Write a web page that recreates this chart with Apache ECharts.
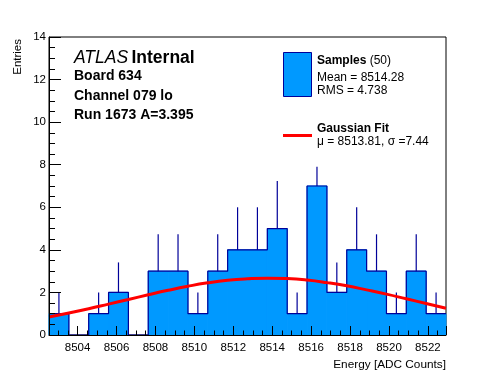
<!DOCTYPE html>
<html>
<head>
<meta charset="utf-8">
<script src="https://cdn.jsdelivr.net/npm/echarts@6/dist/echarts.min.js"></script>
<style>
html,body{margin:0;padding:0;background:#fff;}
#chart{width:496px;height:372px;}
</style>
</head>
<body>
<div id="chart"></div>
<script>
// ---- data ----
const binEdges = [8502.53, 8503.55, 8504.57, 8505.59, 8506.61, 8507.63, 8508.65, 8509.67, 8510.69, 8511.71,
                  8512.73, 8513.75, 8514.77, 8515.79, 8516.81, 8517.83, 8518.85, 8519.87, 8520.89, 8521.91, 8522.93];
const counts  = [1, 0, 1, 2, 0, 3, 3, 1, 3, 4, 4, 5, 1, 7, 2, 4, 3, 1, 3, 1];
const errHigh = [2, 0, 2, 3.41, 0, 4.73, 4.73, 2, 4.73, 6, 6, 7.24, 2, 7.9, 3.41, 6, 4.73, 2, 4.73, 2];
const fitY    = [0.85, 1.03, 1.23, 1.45, 1.67, 1.89, 2.10, 2.29, 2.45, 2.57, 2.64, 2.67, 2.65, 2.58, 2.46, 2.31, 2.12, 1.92, 1.70, 1.48, 1.26];
const yTicks = { min: 0, max: 14, step: 2 };
const xTitle = 'Energy [ADC Counts]';
const yTitle = 'Entries';
const infoLines = ['Board 634', 'Channel 079 lo', 'Run 1673 A=3.395'];
const legendSamples = ['Mean = 8514.28', 'RMS = 4.738'];
const legendFit = 'μ = 8513.81, σ =7.44';

const FONT = '"Liberation Sans", Arial, Helvetica, sans-serif';
const FILL = '#0099ff';
const EDGE = '#000099';

const barData = counts.map((c, i) => [binEdges[i], binEdges[i + 1], c]);
const stepData = counts.map((c, i) => [binEdges[i], c]);
stepData.push([binEdges[binEdges.length - 1], counts[counts.length - 1]]);
const errData = counts.map((c, i) => [(binEdges[i] + binEdges[i + 1]) / 2, c, errHigh[i]]).filter(d => d[1] > 0);
const fitData = fitY.map((v, i) => [binEdges[i], v]);

const chart = echarts.init(document.getElementById('chart'), null, { renderer: 'canvas' });
chart.setOption({
  animation: false,
  backgroundColor: '#fff',
  grid: { left: 49, top: 37, width: 397, height: 298, show: true, borderColor: '#000', borderWidth: 1, backgroundColor: 'transparent' },
  xAxis: {
    type: 'value', min: binEdges[0], max: binEdges[binEdges.length - 1],
    splitNumber: 10, minInterval: 2, maxInterval: 2, z: 10,
    axisLine: { show: true, onZero: false, lineStyle: { color: '#000', width: 1 } },
    axisTick: { show: true, inside: true, length: 9, lineStyle: { color: '#000' } },
    minorTick: { show: true, splitNumber: 4, length: 4.5, lineStyle: { color: '#000' } },
    splitLine: { show: false },
    axisLabel: { color: '#000', fontSize: 11.5, fontFamily: FONT, margin: 7, showMinLabel: false, showMaxLabel: false,
      formatter: function (v) { return String(Math.round(v)); } }
  },
  yAxis: {
    type: 'value', min: yTicks.min, max: yTicks.max, interval: yTicks.step, z: 10,
    axisLine: { show: true, onZero: false, lineStyle: { color: '#000', width: 1 } },
    axisTick: { show: true, inside: true, length: 12, lineStyle: { color: '#000' } },
    minorTick: { show: true, splitNumber: 4, length: 6, lineStyle: { color: '#000' } },
    splitLine: { show: false },
    axisLabel: { color: '#000', fontSize: 11.5, fontFamily: FONT, margin: 3 }
  },
  series: [
    {
      type: 'custom', z: 2, data: barData,
      renderItem: function (params, api) {
        const lo = api.value(0), hi = api.value(1), v = api.value(2);
        if (v <= 0) return null;
        const p0 = api.coord([lo, v]);
        const p1 = api.coord([hi, 0]);
        return { type: 'rect', shape: { x: p0[0], y: p0[1], width: p1[0] - p0[0], height: p1[1] - p0[1] },
                 style: { fill: FILL, stroke: FILL, lineWidth: 1 } };
      }
    },
    {
      type: 'line', z: 3, data: stepData, step: 'end', symbol: 'none',
      lineStyle: { color: EDGE, width: 1.2 }
    },
    {
      type: 'custom', z: 4, data: errData,
      renderItem: function (params, api) {
        const x = api.value(0), v = api.value(1), e = api.value(2);
        const a = api.coord([x, v]);
        const b = api.coord([x, e]);
        return { type: 'line', shape: { x1: a[0], y1: a[1], x2: b[0], y2: b[1] }, style: { stroke: EDGE, lineWidth: 1.2 } };
      }
    },
    {
      type: 'line', z: 5, data: fitData, smooth: true, symbol: 'none',
      lineStyle: { color: '#ff0000', width: 3 }
    }
  ],
  graphic: [
    { type: 'text', x: 18, y: 39, rotation: Math.PI / 2,
      style: { text: yTitle, fill: '#000', font: '11.5px ' + FONT, align: 'right', verticalAlign: 'middle' } },
    { type: 'text', x: 446, y: 365,
      style: { text: xTitle, fill: '#000', font: '11.8px ' + FONT, align: 'right', verticalAlign: 'middle' } },
    { type: 'text', x: 74, y: 58,
      style: { text: '{i|ATLAS} {b|Internal}', verticalAlign: 'middle', align: 'left',
        rich: { i: { fontStyle: 'italic', fontSize: 17.5, fontFamily: FONT, fill: '#000' },
                b: { fontWeight: 'bold', fontSize: 17.5, fontFamily: FONT, fill: '#000' } } } },
    { type: 'text', x: 74, y: 76, style: { text: infoLines[0], fill: '#000', font: 'bold 14px ' + FONT, verticalAlign: 'middle' } },
    { type: 'text', x: 74, y: 96, style: { text: infoLines[1], fill: '#000', font: 'bold 14px ' + FONT, verticalAlign: 'middle' } },
    { type: 'text', x: 74, y: 115, style: { text: infoLines[2], fill: '#000', font: 'bold 14px ' + FONT, verticalAlign: 'middle' } },
    { type: 'rect', shape: { x: 283.5, y: 52.5, width: 28, height: 44 }, style: { fill: FILL, stroke: EDGE, lineWidth: 1 } },
    { type: 'text', x: 317, y: 61,
      style: { text: '{b|Samples} {n|(50)}', verticalAlign: 'middle', align: 'left',
        rich: { b: { fontWeight: 'bold', fontSize: 12, fontFamily: FONT, fill: '#000' },
                n: { fontSize: 12, fontFamily: FONT, fill: '#000' } } } },
    { type: 'text', x: 317, y: 78, style: { text: legendSamples[0], fill: '#000', font: '12px ' + FONT, verticalAlign: 'middle' } },
    { type: 'text', x: 317, y: 91, style: { text: legendSamples[1], fill: '#000', font: '12px ' + FONT, verticalAlign: 'middle' } },
    { type: 'line', shape: { x1: 283, y1: 135.5, x2: 312, y2: 135.5 }, style: { stroke: '#ff0000', lineWidth: 3 } },
    { type: 'text', x: 317, y: 129, style: { text: 'Gaussian Fit', fill: '#000', font: 'bold 12px ' + FONT, verticalAlign: 'middle' } },
    { type: 'text', x: 317, y: 142, style: { text: legendFit, fill: '#000', font: '12px ' + FONT, verticalAlign: 'middle' } }
  ]
});
</script>
</body>
</html>
